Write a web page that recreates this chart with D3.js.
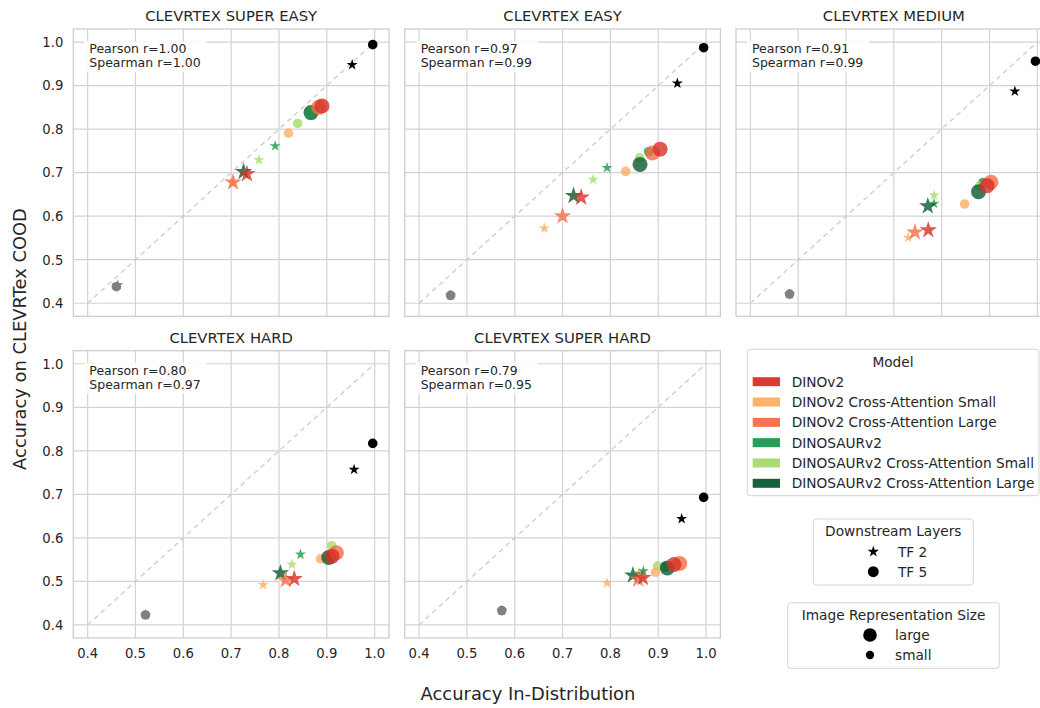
<!DOCTYPE html>
<html><head><meta charset="utf-8">
<script src="https://cdn.jsdelivr.net/npm/d3@7"></script>
<style>body{margin:0;background:#fff;} svg{display:block;font-family:"DejaVu Sans",sans-serif;}</style>
</head><body><svg id="c" width="1040" height="708"></svg>
<script>
const panelTitles = ["CLEVRTEX SUPER EASY","CLEVRTEX EASY","CLEVRTEX MEDIUM","CLEVRTEX HARD","CLEVRTEX SUPER HARD"];
const pearson = ["1.00","0.97","0.91","0.80","0.79"];
const spearman = ["1.00","0.99","0.99","0.97","0.95"];
const modelNames = ["DINOv2","DINOv2 Cross-Attention Small","DINOv2 Cross-Attention Large","DINOSAURv2","DINOSAURv2 Cross-Attention Small","DINOSAURv2 Cross-Attention Large"];
const modelColors = ["#d73027","#fdae61","#f46d43","#1a9850","#a6d96a","#0b5a30"];
const modelSize = ["large","small","large","small","small","large"];
const extraNames = ["Baseline","Reference"];
const extraColors = ["#808080","#000000"];
const layerNames = ["TF 2","TF 5"];
const sizeNames = ["large","small"];
const tickValues = [0.4,0.5,0.6,0.7,0.8,0.9,1.0];

// [series, layer, x (in-distribution), y (COOD)]
const superEasy = [
  ["Baseline","TF 5",0.460,0.438],["Baseline","TF 2",0.463,0.442],
  ["Reference","TF 2",0.953,0.948],["Reference","TF 5",0.996,0.994],
  ["DINOSAURv2 Cross-Attention Large","TF 2",0.726,0.702],["DINOSAURv2 Cross-Attention Large","TF 5",0.867,0.838],
  ["DINOSAURv2","TF 2",0.792,0.761],["DINOSAURv2","TF 5",0.864,0.836],
  ["DINOSAURv2 Cross-Attention Small","TF 2",0.758,0.729],["DINOSAURv2 Cross-Attention Small","TF 5",0.839,0.813],
  ["DINOv2 Cross-Attention Small","TF 2",0.703,0.676],["DINOv2 Cross-Attention Small","TF 5",0.820,0.791],
  ["DINOv2 Cross-Attention Large","TF 2",0.704,0.678],["DINOv2 Cross-Attention Large","TF 5",0.883,0.850],
  ["DINOv2","TF 2",0.733,0.697],["DINOv2","TF 5",0.890,0.853]
];
const easy = [
  ["Baseline","TF 2",0.466,0.418],["Baseline","TF 5",0.466,0.418],
  ["Reference","TF 2",0.940,0.905],["Reference","TF 5",0.995,0.987],
  ["DINOSAURv2","TF 2",0.793,0.711],["DINOSAURv2","TF 5",0.880,0.748],
  ["DINOSAURv2 Cross-Attention Small","TF 2",0.764,0.684],["DINOSAURv2 Cross-Attention Small","TF 5",0.861,0.734],
  ["DINOSAURv2 Cross-Attention Large","TF 2",0.723,0.647],["DINOSAURv2 Cross-Attention Large","TF 5",0.862,0.719],
  ["DINOv2 Cross-Attention Small","TF 2",0.662,0.572],["DINOv2 Cross-Attention Small","TF 5",0.832,0.703],
  ["DINOv2 Cross-Attention Large","TF 2",0.700,0.600],["DINOv2 Cross-Attention Large","TF 5",0.888,0.745],
  ["DINOv2","TF 2",0.739,0.643],["DINOv2","TF 5",0.904,0.754]
];
const medium = [
  ["Baseline","TF 2",0.482,0.421],["Baseline","TF 5",0.482,0.421],
  ["Reference","TF 2",0.953,0.887],["Reference","TF 5",0.996,0.956],
  ["DINOSAURv2","TF 5",0.886,0.677],["DINOSAURv2 Cross-Attention Small","TF 5",0.879,0.669],
  ["DINOSAURv2 Cross-Attention Large","TF 5",0.877,0.656],
  ["DINOSAURv2 Cross-Attention Small","TF 2",0.784,0.648],["DINOSAURv2","TF 2",0.784,0.629],
  ["DINOSAURv2 Cross-Attention Large","TF 2",0.771,0.623],
  ["DINOv2 Cross-Attention Small","TF 2",0.730,0.551],["DINOv2 Cross-Attention Small","TF 5",0.848,0.628],
  ["DINOv2 Cross-Attention Large","TF 2",0.744,0.563],["DINOv2 Cross-Attention Large","TF 5",0.903,0.678],
  ["DINOv2","TF 2",0.772,0.568],["DINOv2","TF 5",0.895,0.670]
];
const hard = [
  ["Baseline","TF 2",0.521,0.423],["Baseline","TF 5",0.521,0.423],
  ["Reference","TF 2",0.957,0.757],["Reference","TF 5",0.996,0.817],
  ["DINOSAURv2","TF 2",0.845,0.562],["DINOSAURv2","TF 5",0.905,0.557],
  ["DINOSAURv2 Cross-Attention Small","TF 2",0.827,0.539],["DINOSAURv2 Cross-Attention Small","TF 5",0.910,0.582],
  ["DINOv2 Cross-Attention Small","TF 2",0.767,0.492],["DINOv2 Cross-Attention Small","TF 5",0.887,0.552],
  ["DINOSAURv2 Cross-Attention Large","TF 2",0.803,0.519],["DINOSAURv2 Cross-Attention Large","TF 5",0.904,0.555],
  ["DINOv2 Cross-Attention Large","TF 2",0.814,0.503],["DINOv2 Cross-Attention Large","TF 5",0.920,0.566],
  ["DINOv2","TF 2",0.832,0.506],["DINOv2","TF 5",0.911,0.558]
];
const superHard = [
  ["Baseline","TF 2",0.573,0.433],["Baseline","TF 5",0.573,0.433],
  ["Reference","TF 2",0.949,0.644],["Reference","TF 5",0.995,0.693],
  ["DINOSAURv2 Cross-Attention Small","TF 2",0.860,0.520],["DINOSAURv2","TF 2",0.869,0.524],
  ["DINOSAURv2","TF 5",0.915,0.533],
  ["DINOSAURv2 Cross-Attention Small","TF 5",0.899,0.535],
  ["DINOv2 Cross-Attention Small","TF 2",0.793,0.496],["DINOv2 Cross-Attention Small","TF 5",0.894,0.521],
  ["DINOSAURv2 Cross-Attention Large","TF 2",0.847,0.514],["DINOSAURv2 Cross-Attention Large","TF 5",0.919,0.531],
  ["DINOv2 Cross-Attention Large","TF 2",0.858,0.505],["DINOv2 Cross-Attention Large","TF 5",0.945,0.541],
  ["DINOv2","TF 2",0.868,0.508],["DINOv2","TF 5",0.933,0.539]
];
const panelData = [superEasy, easy, medium, hard, superHard];

const svg = d3.select("#c");
const colX = [73.3, 404.7, 736], rowY = [29, 350.7];
const pw = 315.7, ph = 287.3;
const domain = [0.37, 1.03];
const textCol = "#262626";

const colorOf = d3.scaleOrdinal().domain(modelNames.concat(extraNames)).range(modelColors.concat(extraColors));
const sizeOf = d3.scaleOrdinal().domain(modelNames.concat(extraNames)).range(modelSize.concat(["small","small"]));
const circleR = {large: 7.5, small: 4.8};
const starArea = {large: 95, small: 38};

panelData.forEach((pts, i) => {
  const col = i % 3, row = Math.floor(i / 3);
  const x0 = colX[col], y0 = rowY[row];
  const x = d3.scaleLinear().domain(domain).range([x0, x0 + pw]);
  const y = d3.scaleLinear().domain(domain).range([y0 + ph, y0]);
  const g = svg.append("g");
  g.append("rect").attr("x", x0).attr("y", y0).attr("width", pw).attr("height", ph).attr("fill", "#fff");
  g.selectAll(".gx").data(tickValues).join("line")
    .attr("x1", d => x(d)).attr("x2", d => x(d)).attr("y1", y0).attr("y2", y0 + ph)
    .attr("stroke", "#d3d3d3").attr("stroke-width", 1.2);
  g.selectAll(".gy").data(tickValues).join("line")
    .attr("y1", d => y(d)).attr("y2", d => y(d)).attr("x1", x0).attr("x2", x0 + pw)
    .attr("stroke", "#d3d3d3").attr("stroke-width", 1.2);
  g.append("line").attr("x1", x(0.4)).attr("y1", y(0.4)).attr("x2", x(1.0)).attr("y2", y(1.0))
    .attr("stroke", "#cfcfcf").attr("stroke-width", 1.4).attr("stroke-dasharray", "5,4");
  g.selectAll(".pt").data(pts).join("path")
    .attr("transform", d => `translate(${x(d[2])},${y(d[3])})`)
    .attr("d", d => {
      const s = sizeOf(d[0]);
      return d[1] === "TF 2"
        ? d3.symbol(d3.symbolStar, starArea[s])()
        : d3.symbol(d3.symbolCircle, Math.PI * circleR[s] * circleR[s])();
    })
    .attr("fill", d => colorOf(d[0]))
    .attr("fill-opacity", d => extraNames.includes(d[0]) ? 1 : 0.8);
  g.append("rect").attr("x", x0).attr("y", y0).attr("width", pw).attr("height", ph)
    .attr("fill", "none").attr("stroke", "#cccccc").attr("stroke-width", 1.25);
  g.append("rect").attr("x", x0 + 11).attr("y", y0 + 12).attr("width", 122).attr("height", 31)
    .attr("fill", "#fff").attr("fill-opacity", 0.85);
  g.append("text").attr("x", x0 + 16).attr("y", y0 + 24).attr("font-size", 12.5).attr("fill", textCol)
    .text("Pearson r=" + pearson[i]);
  g.append("text").attr("x", x0 + 16).attr("y", y0 + 38).attr("font-size", 12.5).attr("fill", textCol)
    .text("Spearman r=" + spearman[i]);
  g.append("text").attr("x", x0 + pw / 2).attr("y", y0 - 8).attr("text-anchor", "middle")
    .attr("font-size", 14.8).attr("fill", textCol).text(panelTitles[i]);
  if (col === 0) {
    g.selectAll(".yt").data(tickValues).join("text")
      .attr("x", x0 - 10).attr("y", d => y(d) + 4.8).attr("text-anchor", "end")
      .attr("font-size", 13.2).attr("fill", textCol).text(d => d3.format(".1f")(d));
  }
  if (row === 1) {
    g.selectAll(".xt").data(tickValues).join("text")
      .attr("x", d => x(d)).attr("y", y0 + ph + 19.5).attr("text-anchor", "middle")
      .attr("font-size", 13.2).attr("fill", textCol).text(d => d3.format(".1f")(d));
  }
});

svg.append("text").attr("x", 528).attr("y", 700).attr("text-anchor", "middle")
  .attr("font-size", 17.9).attr("fill", textCol).text("Accuracy In-Distribution");
svg.append("text").attr("transform", "translate(26,339) rotate(-90)").attr("text-anchor", "middle")
  .attr("font-size", 17.9).attr("fill", textCol).text("Accuracy on CLEVRTex COOD");

const lg1 = svg.append("g");
lg1.append("rect").attr("x", 747.3).attr("y", 349.3).attr("width", 291.7).attr("height", 146.4).attr("rx", 3)
  .attr("fill", "#fff").attr("stroke", "#d4d4d4");
lg1.append("text").attr("x", 893).attr("y", 366.5).attr("text-anchor", "middle").attr("font-size", 13.7)
  .attr("fill", textCol).text("Model");
const ly = d3.scalePoint().domain(modelNames).range([381.7, 483.3]);
lg1.selectAll(".p").data(modelNames).join("rect")
  .attr("x", 752.7).attr("y", d => ly(d) - 4.5).attr("width", 27.3).attr("height", 9)
  .attr("fill", d => colorOf(d)).attr("fill-opacity", 0.95);
lg1.selectAll(".t").data(modelNames).join("text")
  .attr("x", 791.7).attr("y", d => ly(d) + 4.9).attr("font-size", 13.7).attr("fill", textCol).text(d => d);

const lg2 = svg.append("g");
lg2.append("rect").attr("x", 813.3).attr("y", 519).attr("width", 160).attr("height", 66).attr("rx", 3)
  .attr("fill", "#fff").attr("stroke", "#d4d4d4");
lg2.append("text").attr("x", 893.3).attr("y", 536).attr("text-anchor", "middle").attr("font-size", 13.7)
  .attr("fill", textCol).text("Downstream Layers");
const ly2 = d3.scalePoint().domain(layerNames).range([551.7, 571.7]);
lg2.selectAll(".m").data(layerNames).join("path")
  .attr("transform", d => `translate(873.3,${ly2(d)})`)
  .attr("d", d => d === "TF 2" ? d3.symbol(d3.symbolStar, 40)() : d3.symbol(d3.symbolCircle, Math.PI * 30)())
  .attr("fill", "#000");
lg2.selectAll(".t").data(layerNames).join("text")
  .attr("x", 898).attr("y", d => ly2(d) + 4.9).attr("font-size", 13.7).attr("fill", textCol).text(d => d);

const lg3 = svg.append("g");
lg3.append("rect").attr("x", 787.7).attr("y", 602.7).attr("width", 211.6).attr("height", 65.6).attr("rx", 3)
  .attr("fill", "#fff").attr("stroke", "#d4d4d4");
lg3.append("text").attr("x", 893.5).attr("y", 619.5).attr("text-anchor", "middle").attr("font-size", 13.7)
  .attr("fill", textCol).text("Image Representation Size");
const ly3 = d3.scalePoint().domain(sizeNames).range([635, 655]);
lg3.selectAll(".m").data(sizeNames).join("circle")
  .attr("cx", 870).attr("cy", d => ly3(d)).attr("r", d => d === "large" ? 6.8 : 4.2).attr("fill", "#000");
lg3.selectAll(".t").data(sizeNames).join("text")
  .attr("x", 895).attr("y", d => ly3(d) + 4.9).attr("font-size", 13.7).attr("fill", textCol).text(d => d);
</script></body></html>
